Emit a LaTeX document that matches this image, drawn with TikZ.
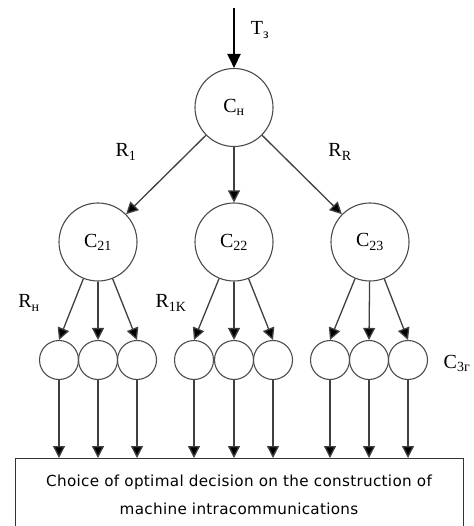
\documentclass[tikz,border=0pt]{standalone}
\usepackage{fontspec}
\setmainfont{Liberation Serif}
\newfontfamily\boxfont[LetterSpace=2]{DejaVu Sans}
\usetikzlibrary{arrows.meta}
\tikzset{
  big/.style={circle, draw=black!70, line width=1.1pt, minimum size=78pt, inner sep=0pt, font=\fontsize{20}{22}\selectfont},
  small/.style={circle, draw=black!70, line width=1.1pt, minimum size=39pt, inner sep=0pt},
  lbl/.style={font=\fontsize{20}{22}\selectfont, inner sep=0pt},
  arr/.style={draw=black!75, line width=1.3pt, -{Triangle[length=12pt,width=12pt,fill=black]}},
  toparr/.style={draw=black, line width=2.6pt, -{Triangle[length=14pt,width=13pt]}},
  outbox/.style={draw=black!80, line width=1pt, inner sep=0pt}
}
\begin{document}
\begin{tikzpicture}[x=1pt,y=-1pt]
\useasboundingbox (0,0) rectangle (473,526);
\fill[white] (0,0) rectangle (473,526);
% nodes
\coordinate (top) at (234,8);
\node[big] (cn) at (234,107.5) {C\textsubscript{н}};
\node[big] (c21) at (98,242) {C\textsubscript{21}};
\node[big] (c22) at (234,242) {C\textsubscript{22}};
\node[big] (c23) at (370,242) {C\textsubscript{23}};
\foreach \n/\x in {a1/59,a2/98,a3/137,b1/194,b2/234,b3/273,d1/330,d2/369,d3/408}
  \node[small] (\n) at (\x,360) {};
\node[outbox, minimum width=448pt, minimum height=72pt, anchor=north west] (box) at (15,458) {};
\node[font=\boxfont\fontsize{15.2}{28}\selectfont, align=center, inner sep=0pt] (txt) at (239,495) {Choice of optimal decision on the construction of\\machine intracommunications};
% labels
\node[lbl] (tz) at (260,30) {T\textsubscript{з}};
\node[lbl] (r1) at (126,152) {R\textsubscript{1}};
\node[lbl] (rr) at (340,152) {R\textsubscript{R}};
\node[lbl] (rn) at (29,303) {R\textsubscript{н}};
\node[lbl] (r1k) at (171,303) {R\textsubscript{1K}};
\node[lbl] (c3g) at (457,363) {C\textsubscript{3г}};
% connectors
\draw[toparr] (top) -- (cn);
\draw[arr] (cn) -- (c21);
\draw[arr] (cn) -- (c22);
\draw[arr] (cn) -- (c23);
\draw[arr] (c21) -- (a1.north);
\draw[arr] (c21) -- (a2.north);
\draw[arr] (c21) -- (a3.north);
\draw[arr] (c22) -- (b1.north);
\draw[arr] (c22) -- (b2.north);
\draw[arr] (c22) -- (b3.north);
\draw[arr] (c23) -- (d1.north);
\draw[arr] (c23) -- (d2.north);
\draw[arr] (c23) -- (d3.north);
\foreach \n in {a1,a2,a3,b1,b2,b3,d1,d2,d3}
  \draw[arr] (\n) -- (\n |- box.north);
\end{tikzpicture}
\end{document}
